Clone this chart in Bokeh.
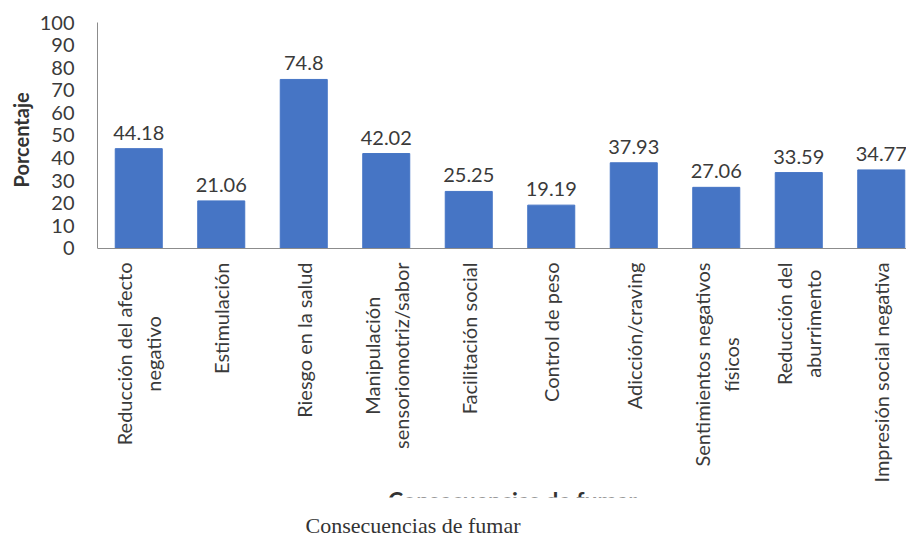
import math
from bokeh.plotting import figure
from bokeh.models import Range1d, FixedTicker, Label, ColumnDataSource, Title, BoxAnnotation
from bokeh.embed import file_html
from bokeh.resources import INLINE
from bokeh.core.properties import value

categories = [
    "Reducción del afecto\nnegativo",
    "Estimulación",
    "Riesgo en la salud",
    "Manipulación\nsensoriomotriz/sabor",
    "Facilitación social",
    "Control de peso",
    "Adicción/craving",
    "Sentimientos negativos\nfísicos",
    "Reducción del\naburrimento",
    "Impresión social negativa",
]
percentages = [44.18, 21.06, 74.8, 42.02, 25.25, 19.19, 37.93, 27.06, 33.59, 34.77]
y_ticks = [0, 10, 20, 30, 40, 50, 60, 70, 80, 90, 100]
y_title = "Porcentaje"
x_title = "Consecuencias de fumar"
caption = "Consecuencias de fumar"

idx = list(range(len(categories)))
src = ColumnDataSource(dict(x=idx, top=percentages, lab=[str(v) for v in percentages]))

TXT = "#3a3a3a"
AX = "#8c8c8c"

# frame spans from the 100 line down to the bottom of the canvas; the area below 0
# holds the rotated category labels, the (cut-off) axis title and the caption
p = figure(width=906, height=537, x_range=Range1d(-0.5, 9.306), y_range=Range1d(-127.88, 100),
           output_backend="svg", toolbar_location=None,
           min_border_left=97, min_border_right=0, min_border_top=22, min_border_bottom=0)
p.outline_line_color = None
p.xgrid.visible = False
p.ygrid.visible = False

p.vbar(x="x", top="top", width=0.57, color="#4675C5", source=src)
p.text(x="x", y="top", text="lab", source=src, text_align="center", text_baseline="alphabetic",
       y_offset=-16, text_font=value("Lato"), text_font_size="20px", text_color=TXT)

xa = p.xaxis[0]
xa.fixed_location = 0
xa.ticker = FixedTicker(ticks=[])
xa.major_tick_line_color = None
xa.minor_tick_line_color = None
xa.axis_line_color = AX

for i, c in zip(idx, categories):
    p.add_layout(Label(x=i, y=0, x_units="data", y_units="data", y_offset=-14, text=c,
                       angle=math.pi / 2, anchor="center_right", text_align="center",
                       text_font="Lato", text_font_size="20px", text_color=TXT,
                       text_line_height=1.2))

ya = p.yaxis[0]
ya.bounds = (0, 100)
ya.ticker = FixedTicker(ticks=y_ticks)
ya.major_tick_line_color = None
ya.minor_tick_line_color = None
ya.axis_line_color = AX
ya.major_label_standoff = 17
ya.major_label_text_font = "Lato"
ya.major_label_text_font_size = "20px"
ya.major_label_text_color = TXT

p.add_layout(Title(text=y_title, align="left", offset=350, standoff=8, text_font="Lato",
                   text_font_style="bold", text_font_size="20px", text_color="#333333"), "left")

# axis title, cut off at its lower half as in the source image
p.add_layout(Label(x=415, y=0, x_units="screen", y_units="data", y_offset=-238, text=x_title,
                   text_align="center", text_baseline="top", text_font="Lato",
                   text_font_style="bold", text_font_size="23px", text_color="#333333"))
p.add_layout(BoxAnnotation(top=40, top_units="screen", fill_color="white", fill_alpha=1.0,
                           line_color=None))

p.add_layout(Label(x=208, y=0, x_units="screen", y_units="data", y_offset=-277, text=caption,
                   text_align="left", text_baseline="middle", text_font="Liberation Serif",
                   text_font_size="22px", text_color="#333333"))

open("out.html", "w").write(file_html(p, INLINE))
